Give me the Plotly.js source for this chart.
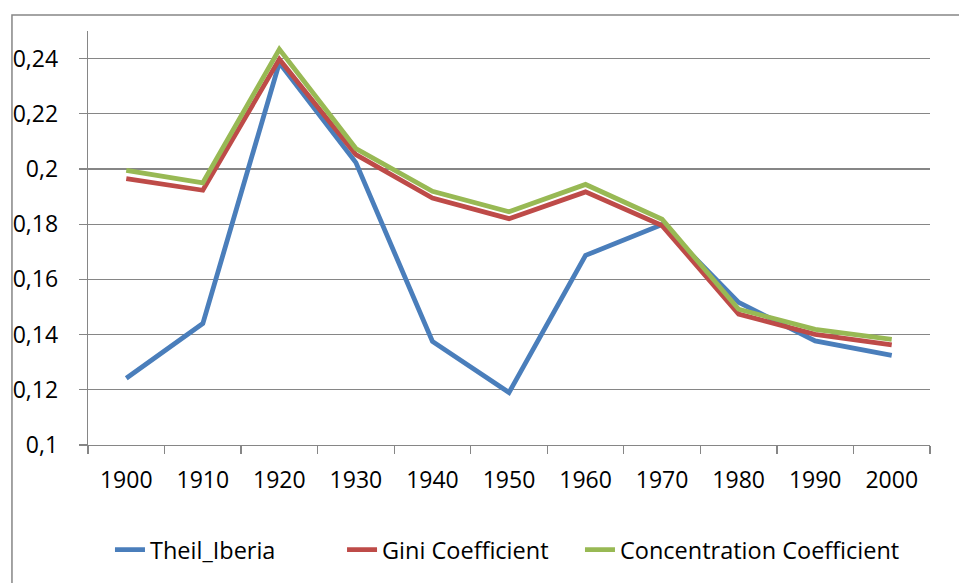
<!DOCTYPE html>
<html>
<head>
<meta charset="utf-8">
<script src="https://cdn.plot.ly/plotly-3.0.1.min.js"></script>
<style>html,body{margin:0;padding:0;background:#fff;}#chart{width:959px;height:583px;}</style>
</head>
<body>
<div id="chart"></div>
<script>
var years = ['1900','1910','1920','1930','1940','1950','1960','1970','1980','1990','2000'];
var theilIberia = [0.1242, 0.1440, 0.2385, 0.2023, 0.1375, 0.1190, 0.1687, 0.1799, 0.1517, 0.1377, 0.1325];
var giniCoefficient = [0.1965, 0.1923, 0.2398, 0.2052, 0.1895, 0.1820, 0.1917, 0.1795, 0.1474, 0.1401, 0.1363];
var concentrationCoefficient = [0.1995, 0.1950, 0.2434, 0.2074, 0.1919, 0.1845, 0.1944, 0.1818, 0.1492, 0.1419, 0.1383];
var seriesNames = ['Theil_Iberia', 'Gini Coefficient', 'Concentration Coefficient'];
var colors = ['#4A7EBB', '#BE4B48', '#98B954'];
var legendIds = ['legend', 'legend2', 'legend3'];
var legendX = [0.0261, 0.3017, 0.5843];

var allSeries = [theilIberia, giniCoefficient, concentrationCoefficient];
var traces = allSeries.map(function (vals, i) {
  return {
    type: 'scatter',
    mode: 'lines',
    x: years,
    y: vals,
    name: seriesNames[i],
    legend: legendIds[i],
    line: {color: colors[i], width: 4.8},
    hoverinfo: 'x+y'
  };
});

var gray = '#868686';
var layout = {
  width: 959,
  height: 583,
  separators: ',.',
  paper_bgcolor: '#ffffff',
  plot_bgcolor: '#ffffff',
  font: {family: 'Open Sans, sans-serif', size: 23, color: '#000000'},
  margin: {l: 88, r: 29, t: 31, b: 137, pad: 0},
  showlegend: true,
  xaxis: {
    type: 'category',
    range: [-0.5, 10.5],
    showgrid: false,
    showline: true,
    linecolor: gray,
    linewidth: 1.3,
    ticks: 'outside',
    tickson: 'boundaries',
    ticklen: 8,
    tickcolor: gray,
    tickwidth: 1.3,
    ticklabelstandoff: 14,
    fixedrange: true,
    zeroline: false
  },
  yaxis: {
    range: [0.1, 0.25],
    dtick: 0.02,
    tick0: 0.1,
    showgrid: true,
    gridcolor: gray,
    gridwidth: 1.3,
    showline: true,
    linecolor: gray,
    linewidth: 1.3,
    ticks: 'outside',
    ticklen: 8,
    tickcolor: gray,
    tickwidth: 1.3,
    ticklabelstandoff: 16,
    zeroline: false,
    fixedrange: true
  },
  shapes: [{
    type: 'rect',
    xref: 'paper', yref: 'paper',
    x0: -0.0903, x1: 1.2, y0: -0.6, y1: 1.0386,
    line: {color: gray, width: 1.5},
    fillcolor: 'rgba(0,0,0,0)',
    layer: 'below'
  }]
};
legendIds.forEach(function (id, i) {
  layout[id] = {
    orientation: 'h',
    x: legendX[i],
    xanchor: 'left',
    y: -0.25,
    yanchor: 'middle',
    font: {size: 23.5},
    bgcolor: 'rgba(0,0,0,0)'
  };
});

Plotly.newPlot('chart', traces, layout, {displayModeBar: false, staticPlot: true});
</script>
</body>
</html>
